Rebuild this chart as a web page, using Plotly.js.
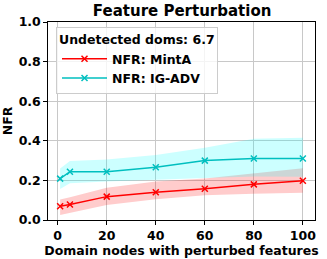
<!DOCTYPE html>
<html><head><meta charset="utf-8">
<script src="https://cdn.plot.ly/plotly-3.0.1.min.js"></script>
<style>html,body{margin:0;padding:0;background:#fff;}#chart{width:327px;height:259px;}</style>
</head><body><div id="chart"></div>
<script>
var xs = [1, 5, 20, 40, 60, 80, 100];
var mintA = [0.069, 0.078, 0.118, 0.14, 0.158, 0.18, 0.198];
var mintALower = [0.025, 0.035, 0.076, 0.105, 0.125, 0.132, 0.138];
var mintAUpper = [0.104, 0.115, 0.163, 0.195, 0.21, 0.235, 0.261];
var igAdv = [0.209, 0.244, 0.244, 0.266, 0.30, 0.311, 0.311];
var igAdvLower = [0.157, 0.185, 0.195, 0.205, 0.212, 0.22, 0.218];
var igAdvUpper = [0.26, 0.298, 0.305, 0.328, 0.365, 0.41, 0.415];
var legendTitle = "Undetected doms: 6.7";
var names = ["NFR: MintA", "NFR: IG-ADV"];

var F = "DejaVu Sans";
function band(lo, hi, color) {
  return [
    {x: xs, y: lo, mode: "lines", line: {width: 0}, showlegend: false, hoverinfo: "skip"},
    {x: xs, y: hi, mode: "lines", line: {width: 0}, fill: "tonexty", fillcolor: color, showlegend: false, hoverinfo: "skip"}
  ];
}
var traces = [].concat(
  band(mintALower, mintAUpper, "rgba(255,0,0,0.2)"),
  band(igAdvLower, igAdvUpper, "rgba(0,255,255,0.2)"),
  [
    {x: xs, y: mintA, name: names[0], mode: "lines+markers", line: {color: "#ff0000", width: 1.5},
     marker: {symbol: "x-thin", size: 6, line: {color: "#ff0000", width: 1.5}}},
    {x: xs, y: igAdv, name: names[1], mode: "lines+markers", line: {color: "#00bfbf", width: 1.5},
     marker: {symbol: "x-thin", size: 6, line: {color: "#00bfbf", width: 1.5}}}
  ]
);
var axisCommon = {
  showline: true, mirror: true, linecolor: "#000", linewidth: 1.2,
  showgrid: true, gridcolor: "#c8c8c8", gridwidth: 1,
  ticks: "outside", ticklen: 3.5, tickcolor: "#000", tickwidth: 1,
  zeroline: false,
  tickfont: {family: F, size: 12.5, color: "#000", weight: "bold"}
};
var layout = {
  width: 327, height: 259,
  margin: {l: 48, r: 12, t: 22, b: 39},
  paper_bgcolor: "#fff", plot_bgcolor: "#fff",
  title: {text: "<b>Feature Perturbation</b>", font: {family: F, size: 15, color: "#000"},
          x: 0.557, xanchor: "center", y: 0.958, yanchor: "middle"},
  xaxis: Object.assign({}, axisCommon, {
    range: [-3.95, 104.95], tickvals: [0, 20, 40, 60, 80, 100],
    title: {text: "<b>Domain nodes with perturbed features</b>", font: {family: F, size: 12.5, color: "#000"}, standoff: 1}
  }),
  yaxis: Object.assign({}, axisCommon, {
    range: [0, 1], tickvals: [0, 0.2, 0.4, 0.6, 0.8, 1.0], tickformat: ".1f",
    title: {text: "<b>NFR</b>", font: {family: F, size: 12.5, color: "#000"}, standoff: 4}
  }),
  showlegend: true,
  legend: {
    x: 0.03, y: 0.975, xanchor: "left", yanchor: "top",
    traceorder: "normal",
    bgcolor: "rgba(255,255,255,0.8)", bordercolor: "#cccccc", borderwidth: 1,
    font: {family: F, size: 12.5, color: "#000", weight: "bold"},
    title: {text: "<b>" + legendTitle + "</b>", font: {family: F, size: 12.5, color: "#000"}},
    itemwidth: 45, tracegroupgap: 0
  }
};
Plotly.newPlot("chart", traces, layout, {staticPlot: true, displayModeBar: false});
</script></body></html>
